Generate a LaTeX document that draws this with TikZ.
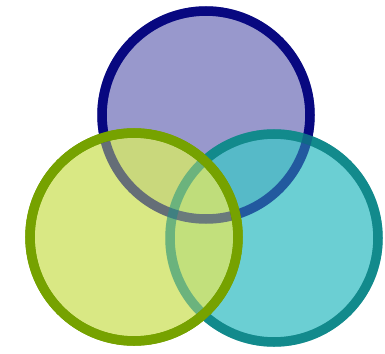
\documentclass[tikz,border=0pt]{standalone}
\usepackage{xcolor}
\usepackage{tikz}

\definecolor{topfill}{RGB}{152,152,204}
\definecolor{topline}{RGB}{8,8,128}
\definecolor{leftfill}{RGB}{210,228,110}
\definecolor{leftline}{RGB}{118,162,0}
\definecolor{rightfill}{RGB}{70,195,200}
\definecolor{rightline}{RGB}{18,138,140}

\begin{document}
\begin{tikzpicture}[
  x=1pt, y=-1pt,
  ring/.style={line width=9.5pt},
  topset/.style={ring, draw=topline, fill=topfill},
  rightset/.style={ring, draw=rightline, fill=rightfill, fill opacity=0.8},
  leftset/.style={ring, draw=leftline, fill=leftfill, fill opacity=0.85},
  showthrough/.style={ring, draw opacity=0.45}
]
\useasboundingbox (0,0) rectangle (385,353);
\coordinate (ctop) at (206,115);
\coordinate (cleft) at (134,237);
\coordinate (cright) at (274,238);

\draw[topset] (ctop) circle[radius=104];
\draw[rightset] (cright) circle[radius=104];
\draw[leftset] (cleft) circle[radius=104];
% borders seen through the upper discs
\draw[showthrough, draw=topline] (ctop) circle[radius=104];
\draw[showthrough, draw=rightline] (cright) circle[radius=104];
\draw[ring, draw=leftline] (cleft) circle[radius=104];
\end{tikzpicture}
\end{document}
